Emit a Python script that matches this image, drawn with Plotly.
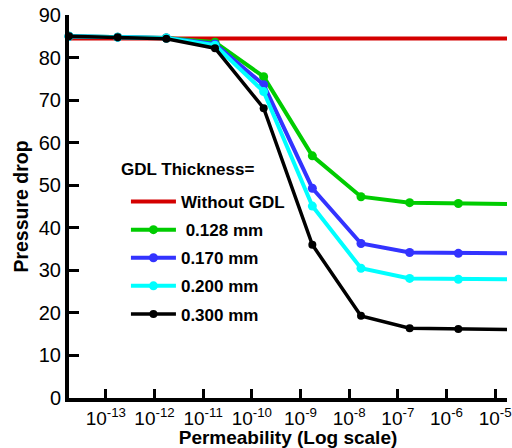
import plotly.graph_objects as go

# Permeability values (log-spaced positions)
permeability = [1.75e-14, 1.75e-13, 1.75e-12, 1.75e-11, 1.75e-10,
                1.75e-9, 1.75e-8, 1.75e-7, 1.75e-6, 1.75e-5]

without_gdl = [84.5, 84.5, 84.5, 84.5, 84.5, 84.5, 84.5, 84.5, 84.5, 84.5]
gdl_0128 = [85.0, 84.8, 84.6, 83.6, 75.5, 56.9, 47.3, 45.9, 45.7, 45.6]
gdl_0170 = [85.0, 84.8, 84.6, 83.2, 73.6, 49.3, 36.3, 34.2, 34.0, 34.0]
gdl_0200 = [85.0, 84.8, 84.6, 82.9, 72.0, 45.1, 30.5, 28.1, 27.9, 27.9]
gdl_0300 = [85.0, 84.8, 84.4, 82.2, 68.1, 36.0, 19.3, 16.4, 16.2, 16.1]

x_tick_vals = [1e-13, 1e-12, 1e-11, 1e-10, 1e-9, 1e-8, 1e-7, 1e-6, 1e-5]
x_tick_text = ["10<sup>-13</sup>", "10<sup>-12</sup>", "10<sup>-11</sup>", "10<sup>-10</sup>",
               "10<sup>-9</sup>", "10<sup>-8</sup>", "10<sup>-7</sup>", "10<sup>-6</sup>", "10<sup>-5</sup>"]
y_tick_vals = [0, 10, 20, 30, 40, 50, 60, 70, 80, 90]

series = [
    ("Without GDL", without_gdl, "#D40000", 4, 0),
    (" 0.128 mm", gdl_0128, "#00CC00", 4, 9),
    ("0.170 mm", gdl_0170, "#3333FF", 4, 9),
    ("0.200 mm", gdl_0200, "#00FFFF", 4, 9),
    ("0.300 mm", gdl_0300, "#000000", 3.5, 8),
]

fig = go.Figure()
for i, (name, vals, color, lw, ms) in enumerate(series):
    fig.add_trace(go.Scatter(
        x=permeability, y=vals, name=name,
        mode="lines" if ms == 0 else "lines+markers",
        line=dict(color=color, width=lw),
        marker=dict(size=ms, color=color),
        cliponaxis=False,
        legendgroup=f"g{i}",
    ))

font = "Arial, 'Liberation Sans', sans-serif"
L, R, T, B = 69, 5, 15, 50
pw, ph = 512 - L - R, 448 - T - B

fig.update_layout(
    width=512, height=448,
    margin=dict(l=L, r=R, t=T, b=B),
    paper_bgcolor="white", plot_bgcolor="white",
    font=dict(family=font, color="black"),
    showlegend=True,
    legend=dict(
        x=0.13, y=(448 - B - 184) / ph, xanchor="left", yanchor="top",
        bgcolor="rgba(0,0,0,0)",
        font=dict(size=17, family=font, color="black", weight="bold"),
        tracegroupgap=3,
        itemwidth=45,
    ),
    annotations=[dict(
        text="GDL Thickness=", x=(119 - L) / pw, y=(448 - B - 169) / ph,
        xref="paper", yref="paper",
        showarrow=False, font=dict(size=17, family=font, weight="bold"),
        xanchor="left", yanchor="middle",
    )],
    xaxis=dict(
        type="log",
        range=[-13.757, -4.757],
        tickvals=x_tick_vals, ticktext=x_tick_text,
        ticks="inside", ticklen=9, tickwidth=3, tickcolor="black",
        showline=True, linewidth=4, linecolor="black",
        showgrid=False, zeroline=False, automargin=False,
        tickfont=dict(size=19),
        title=dict(text="Permeability (Log scale)", font=dict(size=19, weight="bold"), standoff=0),
    ),
    yaxis=dict(
        range=[0, 90],
        tickvals=y_tick_vals,
        ticks="inside", ticklen=10, tickwidth=3, tickcolor="black",
        showline=True, linewidth=4, linecolor="black",
        showgrid=False, zeroline=False, automargin=False,
        tickfont=dict(size=20),
        title=dict(text="Pressure drop", font=dict(size=19.5, weight="bold"), standoff=6),
    ),
)

fig.write_html("out.html", config={"displayModeBar": False},
               post_script="document.body.style.margin='0';")
